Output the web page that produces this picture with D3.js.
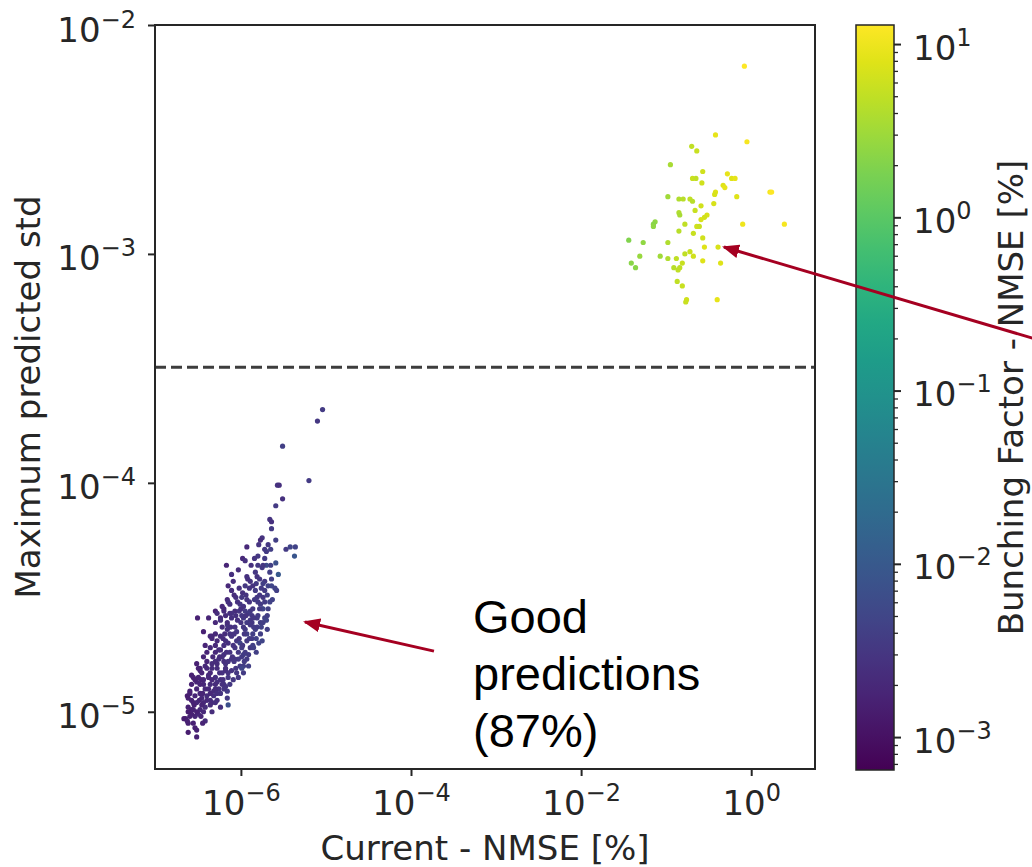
<!DOCTYPE html>
<html>
<head>
<meta charset="utf-8">
<script src="https://cdn.jsdelivr.net/npm/d3@7"></script>
<style>
body { margin: 0; background: #fff; }
svg { display: block; }
</style>
</head>
<body>
<svg id="chart" width="1032" height="867"></svg>
<script>
// values, as log10: [current NMSE, max predicted std, bunching NMSE]
const goodPoints = [
  [-5.04,-3.68,-2.45],[-5.10,-3.73,-2.5],[-5.51,-3.84,-2.4],[-5.57,-4.01,-2.55],[-5.55,-4.01,-2.6],
  [-5.20,-3.99,-2.45],[-5.51,-4.07,-2.6],[-5.59,-4.10,-2.45],[-5.66,-4.16,-2.55],[-5.64,-4.17,-2.6],
  [-5.64,-4.20,-2.45],[-5.75,-4.24,-2.55],[-5.77,-4.25,-2.65],[-5.59,-4.25,-2.4],[-5.93,-4.28,-2.7],
  [-5.79,-4.27,-2.55],[-5.72,-4.29,-2.5],[-5.70,-4.30,-2.45],[-5.68,-4.27,-2.5],[-5.65,-4.29,-2.4],
  [-5.47,-4.29,-2.45],[-5.42,-4.28,-2.3],[-5.36,-4.28,-2.35],[-5.37,-4.32,-2.05],[-5.98,-4.33,-2.7],
  [-5.95,-4.34,-2.6],[-6.17,-4.36,-2.75],[-6.03,-4.38,-2.65],[-6.11,-4.40,-2.6],[-5.80,-4.36,-2.5],
  [-5.70,-4.36,-2.2],[-5.59,-4.35,-2.15],[-5.83,-4.39,-2.5],[-5.81,-4.41,-2.55],[-5.93,-4.41,-2.6],
  [-5.56,-4.40,-2.0],
  [-5.82,-4.44,-2.45],[-5.72,-4.43,-2.5],[-5.68,-4.45,-2.35],[-6.15,-4.45,-2.7],[-6.11,-4.47,-2.65],
  [-6.02,-4.46,-2.6],[-5.98,-4.48,-2.6],[-5.99,-4.50,-2.5],[-5.86,-4.45,-2.55],[-5.83,-4.47,-2.45],
  [-5.81,-4.50,-2.5],[-5.84,-4.51,-2.45],[-5.74,-4.44,-2.4],[-5.72,-4.47,-2.45],[-5.64,-4.45,-2.3],
  [-5.58,-4.47,-2.4],[-5.74,-4.50,-2.5],[-5.77,-4.53,-2.45],[-5.75,-4.55,-2.4],[-6.16,-4.51,-2.7],
  [-6.13,-4.53,-2.6],[-6.07,-4.56,-2.65],[-6.11,-4.57,-2.55],[-6.01,-4.53,-2.5],[-5.97,-4.54,-2.55],
  [-5.95,-4.56,-2.45],[-6.30,-4.56,-2.8],[-6.22,-4.54,-2.7],[-6.51,-4.59,-2.8],[-6.38,-4.59,-2.75],
  [-5.72,-4.59,-2.35],[-5.81,-4.59,-2.45],[-5.87,-4.58,-2.5],[-5.93,-4.51,-2.55],[-5.89,-4.56,-2.5],
  [-5.72,-4.52,-2.45],[-5.74,-4.55,-2.3],[-6.15,-4.52,-2.6],[-6.20,-4.56,-2.65],[-6.13,-4.57,-2.6],
  [-6.24,-4.59,-2.7],[-6.02,-4.56,-2.55],[-5.97,-4.59,-2.5],[-6.04,-4.60,-2.6],[-5.93,-4.61,-2.45],
  [-6.07,-4.63,-2.55],[-6.44,-4.65,-2.8],[-5.89,-4.60,-2.5],[-5.81,-4.63,-2.45],[-5.77,-4.66,-2.4],
  [-5.87,-4.68,-2.45],[-5.79,-4.70,-2.35],[-5.89,-4.72,-2.5],[-5.70,-4.60,-2.3],[-5.69,-4.64,-2.4],
  [-6.34,-4.67,-2.75],[-6.28,-4.69,-2.7],[-6.36,-4.72,-2.7],[-6.24,-4.73,-2.65],[-6.16,-4.64,-2.6],
  [-6.11,-4.67,-2.55],[-6.15,-4.70,-2.6],[-6.05,-4.69,-2.5],[-5.99,-4.72,-2.45],[-5.93,-4.66,-2.4],
  [-6.36,-4.67,-2.7],[-6.42,-4.71,-2.75],[-5.85,-4.72,-2.4],[-5.93,-4.69,-2.5],
  [-6.28,-4.57,-2.65],[-6.24,-4.60,-2.6],[-6.16,-4.62,-2.55],[-6.11,-4.59,-2.6],[-5.99,-4.58,-2.5],
  [-5.91,-4.57,-2.45],[-5.85,-4.59,-2.5],[-5.77,-4.61,-2.4],[-6.24,-4.67,-2.65],[-6.18,-4.69,-2.6],
  [-6.13,-4.66,-2.55],[-6.05,-4.65,-2.5],[-5.95,-4.64,-2.45],[-5.89,-4.62,-2.5],[-5.83,-4.64,-2.4],
  [-6.26,-4.73,-2.65],[-6.20,-4.75,-2.6],[-6.13,-4.74,-2.55],[-6.07,-4.72,-2.5],[-6.01,-4.70,-2.3],
  [-6.52,-4.79,-2.8],[-6.48,-4.81,-2.75],[-6.42,-4.80,-2.7],[-6.34,-4.79,-2.65],[-6.26,-4.77,-2.6],
  [-6.18,-4.79,-2.55],[-6.11,-4.77,-2.5],[-6.03,-4.77,-2.45],[-5.97,-4.80,-2.4],[-6.05,-4.83,-2.5],
  [-6.11,-4.82,-2.55],[-6.58,-4.84,-2.8],[-6.50,-4.85,-2.75],[-6.44,-4.86,-2.7],[-6.38,-4.84,-2.65],
  [-6.30,-4.85,-2.6],[-6.22,-4.83,-2.55],[-6.15,-4.85,-2.5],[-6.20,-4.88,-2.55],[-6.28,-4.87,-2.6],
  [-6.36,-4.88,-2.65],[-6.42,-4.90,-2.7],[-6.26,-4.90,-2.6],[-6.16,-4.91,-2.45],[-6.60,-4.91,-2.8],
  [-6.54,-4.93,-2.75],[-6.62,-4.94,-2.8],[-6.52,-4.96,-2.7],[-6.46,-4.94,-2.7],[-6.40,-4.93,-2.65],
  [-6.32,-4.93,-2.6],[-6.24,-4.92,-2.55],[-6.16,-4.94,-2.5],[-6.34,-4.96,-2.6],[-6.42,-4.98,-2.65],
  [-6.48,-4.99,-2.7],[-6.56,-4.99,-2.75],[-6.15,-4.97,-2.15],[-6.65,-5.03,-2.8],[-6.62,-5.05,-2.8],
  [-6.54,-5.02,-2.75],[-6.50,-5.01,-2.7],[-6.42,-5.04,-2.65],[-6.58,-5.01,-2.8],[-6.62,-5.09,-2.85],
  [-6.52,-5.08,-2.8],[-6.52,-5.11,-2.8],
  [-6.22,-4.76,-2.6],[-6.15,-4.78,-2.55],[-6.07,-4.77,-2.5],[-6.01,-4.80,-2.45],[-6.18,-4.82,-2.6],
  [-5.97,-4.75,-2.4],[-5.93,-4.77,-2.45],[-5.91,-4.80,-2.4],[-5.97,-4.83,-2.45],[-6.03,-4.85,-2.5],
  [-6.28,-4.79,-2.65],[-6.34,-4.81,-2.65],[-6.38,-4.85,-2.7],[-6.48,-4.82,-2.75],[-6.56,-4.85,-2.8],
  [-6.52,-4.87,-2.75],[-6.44,-4.88,-2.7],[-6.24,-4.86,-2.6],[-6.18,-4.89,-2.55],[-6.13,-4.88,-2.5],
  [-6.32,-4.91,-2.65],[-5.99,-4.81,-2.3],[-6.48,-4.92,-2.75],[-6.36,-4.95,-2.65],[-6.44,-4.96,-2.7],
  [-6.63,-4.93,-2.85],[-6.56,-4.96,-2.75],[-6.62,-4.98,-2.8],[-6.58,-4.99,-2.8],[-6.30,-4.96,-2.6],
  [-6.24,-4.98,-2.6],[-6.67,-5.03,-2.85],[-6.63,-5.04,-2.8],[-6.54,-5.07,-2.8],
  [-5.80,-4.32,-2.5],[-5.75,-4.37,-2.45],[-5.66,-4.39,-2.4],[-5.89,-4.43,-2.55],[-5.95,-4.45,-2.5],
  [-5.63,-4.51,-2.35],[-5.68,-4.55,-2.4],[-6.06,-4.50,-2.6],[-6.09,-4.43,-2.65],[-5.75,-4.69,-2.3],
  [-5.82,-4.74,-2.4],[-5.91,-4.75,-2.45],
  // dense core of the cluster
  [-5.84,-4.33,-2.55],[-5.72,-4.33,-2.45],[-5.88,-4.36,-2.6],[-5.74,-4.36,-2.5],[-5.65,-4.36,-2.4],
  [-5.92,-4.42,-2.6],[-5.78,-4.42,-2.5],[-5.64,-4.42,-2.4],[-5.90,-4.46,-2.55],[-5.76,-4.46,-2.45],
  [-5.60,-4.46,-2.35],[-6.08,-4.49,-2.65],[-5.94,-4.49,-2.55],[-5.78,-4.49,-2.5],[-5.69,-4.49,-2.4],
  [-6.04,-4.52,-2.6],[-5.90,-4.52,-2.55],[-5.80,-4.52,-2.45],[-5.66,-4.52,-2.35],[-6.20,-4.55,-2.7],
  [-6.00,-4.55,-2.6],[-5.86,-4.55,-2.5],[-5.78,-4.55,-2.45],[-6.18,-4.58,-2.65],[-6.06,-4.58,-2.6],
  [-5.94,-4.58,-2.55],[-5.80,-4.58,-2.45],[-5.69,-4.58,-2.4],[-6.30,-4.61,-2.7],[-6.16,-4.61,-2.65],
  [-6.00,-4.61,-2.55],[-5.87,-4.61,-2.5],[-5.74,-4.61,-2.4],[-6.22,-4.63,-2.65],[-6.12,-4.63,-2.6],
  [-5.97,-4.63,-2.5],[-5.85,-4.63,-2.45],[-5.76,-4.63,-2.35],[-6.30,-4.66,-2.7],[-6.19,-4.66,-2.65],
  [-6.08,-4.66,-2.55],[-5.96,-4.66,-2.5],[-5.86,-4.66,-2.4],[-6.34,-4.68,-2.7],[-6.21,-4.68,-2.65],
  [-6.02,-4.68,-2.55],[-5.90,-4.68,-2.45],[-5.82,-4.68,-2.35],[-6.30,-4.71,-2.7],[-6.20,-4.71,-2.6],
  [-6.09,-4.71,-2.55],[-5.98,-4.71,-2.5],[-5.86,-4.71,-2.4],[-6.40,-4.74,-2.75],[-6.30,-4.74,-2.7],
  [-6.17,-4.74,-2.6],[-6.03,-4.74,-2.5],[-5.95,-4.74,-2.45],[-6.44,-4.76,-2.75],[-6.33,-4.76,-2.7],
  [-6.25,-4.76,-2.65],[-6.10,-4.76,-2.55],[-5.99,-4.76,-2.45],[-6.40,-4.78,-2.75],[-6.30,-4.78,-2.65],
  [-6.20,-4.78,-2.6],[-6.08,-4.78,-2.5],[-5.96,-4.78,-2.45],[-6.50,-4.81,-2.8],[-6.40,-4.81,-2.7],
  [-6.28,-4.81,-2.65],[-6.18,-4.81,-2.6],[-6.06,-4.81,-2.5],[-6.46,-4.83,-2.75],[-6.36,-4.83,-2.7],
  [-6.25,-4.83,-2.6],[-6.15,-4.83,-2.55],[-6.54,-4.86,-2.8],[-6.47,-4.86,-2.75],[-6.34,-4.86,-2.7],
  [-6.21,-4.86,-2.6],[-6.09,-4.86,-2.5],[-6.58,-4.88,-2.8],[-6.48,-4.88,-2.75],[-6.30,-4.88,-2.65],
  [-6.22,-4.88,-2.6],[-6.52,-4.90,-2.75],[-6.38,-4.90,-2.7],[-6.30,-4.90,-2.65],[-6.20,-4.90,-2.55],
  [-6.60,-4.92,-2.8],[-6.45,-4.92,-2.75],[-6.36,-4.92,-2.7],[-6.28,-4.92,-2.6],[-6.58,-4.95,-2.8],
  [-6.49,-4.95,-2.75],[-6.40,-4.95,-2.7],[-6.28,-4.95,-2.6],[-6.55,-4.97,-2.8],[-6.46,-4.97,-2.75],
  [-6.36,-4.97,-2.65],[-6.62,-5.00,-2.85],[-6.52,-5.00,-2.8],[-6.44,-5.00,-2.7],[-6.34,-5.00,-2.65],
  [-6.60,-5.02,-2.8],[-6.47,-5.02,-2.75],[-6.56,-5.05,-2.8],[-6.45,-5.05,-2.75]
];
const badPoints = [
  [-0.42,-2.48,0.95],[-0.05,-2.51,1.05],[-0.70,-2.53,0.7],[-0.64,-2.55,0.75],[-0.95,-2.61,0.55],
  [-0.57,-2.64,0.8],[-0.69,-2.67,0.75],[-0.65,-2.67,0.7],[-0.58,-2.69,0.8],[-0.28,-2.65,0.95],
  [-0.23,-2.67,0.9],[-0.19,-2.67,0.95],[-0.33,-2.70,0.9],[-0.31,-2.71,0.95],[-0.42,-2.73,0.9],
  [-0.43,-2.74,0.85],[0.22,-2.73,1.05],[0.24,-2.73,1.1],[-0.98,-2.75,0.5],[-0.85,-2.76,0.6],
  [-0.80,-2.76,0.65],[-0.72,-2.76,0.7],[-0.69,-2.77,0.65],[-0.17,-2.75,0.9],[-0.44,-2.78,0.85],
  [-0.59,-2.79,0.8],[-0.66,-2.81,0.75],[-0.85,-2.82,0.6],[-0.84,-2.83,0.55],[-0.52,-2.83,0.85],
  [-0.55,-2.84,0.8],[-0.59,-2.85,0.85],[-1.13,-2.86,0.4],[-1.15,-2.87,0.35],[-1.15,-2.88,0.4],
  [-0.78,-2.87,0.7],[-0.64,-2.88,0.8],[-0.61,-2.88,0.75],[-0.10,-2.87,1.0],[0.39,-2.87,1.05],
  [-0.85,-2.90,0.65],[-0.68,-2.91,0.75],[-0.57,-2.93,0.8],[-1.44,-2.94,0.3],[-1.27,-2.95,0.4],
  [-0.98,-2.95,0.6],[-0.55,-2.97,0.9],[-0.39,-2.97,0.85],[-0.72,-2.99,0.75],[-0.78,-3.00,0.7],
  [-0.68,-3.01,0.8],[-1.31,-3.01,0.45],[-1.07,-3.01,0.5],[-0.98,-3.02,0.6],[-0.57,-3.03,0.9],
  [-0.88,-3.02,0.7],[-0.81,-3.04,0.75],[-0.84,-3.06,0.7],[-0.91,-3.06,0.65],[-0.86,-3.07,0.7],
  [-1.41,-3.04,0.35],[-1.36,-3.06,0.35],[-0.36,-3.04,0.9],[-0.87,-3.12,0.7],[-0.81,-3.14,0.75],
  [-0.76,-3.20,0.8],[-0.77,-3.21,0.75],[-0.40,-3.20,0.95],[-0.08,-2.18,1.11]
];
const xTickExp = [-6, -4, -2, 0];
const yTickExp = [-5, -4, -3, -2];
const cTickExp = [-3, -2, -1, 0, 1];
const threshold = 3.2e-4;
const noteLines = ["Good", "predictions", "(87%)"];

const plot = {left: 155, right: 815, top: 25, bottom: 769};
const bar = {left: 856, right: 894, top: 25, bottom: 770};
const red = "#a50021";
const ink = "#262626";

let svg = d3.select("#chart");
svg.append("rect").attr("width", 1032).attr("height", 867).attr("fill", "#fff");

let x = d3.scaleLog().domain([10 ** -7.01, 10 ** 0.75]).range([plot.left, plot.right]);
let y = d3.scaleLog().domain([10 ** -5.25, 10 ** -2]).range([plot.bottom, plot.top]);
let cDomain = [10 ** -3.19, 10 ** 1.11];
let cy = d3.scaleLog().domain(cDomain).range([bar.bottom, bar.top]);
let color = d3.scaleSequentialLog(d3.interpolateViridis).domain(cDomain);

function pow10(sel, e) {
  sel.append("tspan").text("10");
  sel.append("tspan").attr("font-size", 24).attr("dy", -14)
    .text(e < 0 ? "\u2212" + (-e) : String(e));
}

// points
let pts = goodPoints.concat(badPoints);
svg.append("g").selectAll("circle")
  .data(pts)
  .enter()
  .append("circle")
  .attr("cx", d => x(10 ** d[0]))
  .attr("cy", d => y(10 ** d[1]))
  .attr("r", 2.6)
  .attr("fill", d => color(10 ** d[2]));

// threshold line
svg.append("line")
  .attr("x1", plot.left).attr("x2", plot.right)
  .attr("y1", y(threshold)).attr("y2", y(threshold))
  .attr("stroke", "#3d3d3d").attr("stroke-width", 3)
  .attr("stroke-dasharray", "11,5");

// frame
svg.append("rect")
  .attr("x", plot.left).attr("y", plot.top)
  .attr("width", plot.right - plot.left).attr("height", plot.bottom - plot.top)
  .attr("fill", "none").attr("stroke", ink).attr("stroke-width", 2);

// x axis
let gx = svg.append("g").attr("transform", "translate(0," + plot.bottom + ")")
  .call(d3.axisBottom(x).tickValues(xTickExp.map(e => 10 ** e)).tickSize(7).tickSizeOuter(0).tickFormat(""));
gx.select(".domain").remove();
gx.selectAll(".tick line").attr("stroke", ink).attr("stroke-width", 2);
gx.selectAll(".tick").each(function(d, i) {
  let t = d3.select(this).append("text")
    .attr("y", 46).attr("fill", ink)
    .attr("font-family", "DejaVu Sans").attr("font-size", 34)
    .attr("text-anchor", "middle");
  pow10(t, xTickExp[i]);
});

// y axis
let gy = svg.append("g").attr("transform", "translate(" + plot.left + ",0)")
  .call(d3.axisLeft(y).tickValues(yTickExp.map(e => 10 ** e)).tickSize(7).tickSizeOuter(0).tickFormat(""));
gy.select(".domain").remove();
gy.selectAll(".tick line").attr("stroke", ink).attr("stroke-width", 2);
gy.selectAll(".tick").each(function(d, i) {
  let t = d3.select(this).append("text")
    .attr("x", -19).attr("y", 16).attr("fill", ink)
    .attr("font-family", "DejaVu Sans").attr("font-size", 34)
    .attr("text-anchor", "end");
  pow10(t, yTickExp[i]);
});

// axis labels
svg.append("text")
  .attr("x", (plot.left + plot.right) / 2).attr("y", 860)
  .attr("text-anchor", "middle").attr("fill", ink)
  .attr("font-family", "DejaVu Sans").attr("font-size", 34)
  .text("Current - NMSE [%]");
svg.append("text")
  .attr("transform", "translate(40," + (plot.top + plot.bottom) / 2 + ") rotate(-90)")
  .attr("text-anchor", "middle").attr("fill", ink)
  .attr("font-family", "DejaVu Sans").attr("font-size", 34)
  .text("Maximum predicted std");

// colorbar
let grad = svg.append("defs").append("linearGradient")
  .attr("id", "viridis").attr("x1", 0).attr("x2", 0).attr("y1", 1).attr("y2", 0);
grad.selectAll("stop")
  .data(d3.range(0, 1.0001, 0.05))
  .enter()
  .append("stop")
  .attr("offset", d => d)
  .attr("stop-color", d => d3.interpolateViridis(d));

svg.append("rect")
  .attr("x", bar.left).attr("y", bar.top)
  .attr("width", bar.right - bar.left).attr("height", bar.bottom - bar.top)
  .attr("fill", "url(#viridis)").attr("stroke", ink).attr("stroke-width", 1.5);

let minor = [];
for (let e = -4; e <= 1; e++) {
  for (let m = 2; m <= 9; m++) {
    let v = m * 10 ** e;
    if (v > cDomain[0] && v < cDomain[1]) minor.push(v);
  }
}
let gcMinor = svg.append("g").attr("transform", "translate(" + bar.right + ",0)")
  .call(d3.axisRight(cy).tickValues(minor).tickSize(4).tickSizeOuter(0).tickFormat(""));
gcMinor.select(".domain").remove();
gcMinor.selectAll(".tick line").attr("stroke", ink).attr("stroke-width", 1.3);

let gc = svg.append("g").attr("transform", "translate(" + bar.right + ",0)")
  .call(d3.axisRight(cy).tickValues(cTickExp.map(e => 10 ** e)).tickSize(7).tickSizeOuter(0).tickFormat(""));
gc.select(".domain").remove();
gc.selectAll(".tick line").attr("stroke", ink).attr("stroke-width", 2);
gc.selectAll(".tick").each(function(d, i) {
  let t = d3.select(this).append("text")
    .attr("x", 19).attr("y", 15).attr("fill", ink)
    .attr("font-family", "DejaVu Sans").attr("font-size", 34)
    .attr("text-anchor", "start");
  pow10(t, cTickExp[i]);
});

svg.append("text")
  .attr("transform", "translate(1023," + (bar.top + bar.bottom) / 2 + ") rotate(-90)")
  .attr("text-anchor", "middle").attr("fill", ink)
  .attr("font-family", "DejaVu Sans").attr("font-size", 34)
  .text("Bunching Factor - NMSE [%]");

// annotations
svg.select("defs").append("marker")
  .attr("id", "head")
  .attr("viewBox", "0 0 17 14")
  .attr("refX", 15).attr("refY", 7)
  .attr("markerWidth", 17).attr("markerHeight", 14)
  .attr("markerUnits", "userSpaceOnUse")
  .attr("orient", "auto")
  .append("path")
  .attr("d", "M0,0 L17,7 L0,14 Z")
  .attr("fill", red);

// arrow ends in data units (log10)
const arrows = [
  {from: [-3.73, -4.735], to: [-5.246, -4.608]},
  {from: [3.40, -3.378], to: [-0.32, -2.97]}
];
svg.append("g").selectAll("line")
  .data(arrows)
  .enter()
  .append("line")
  .attr("x1", d => x(10 ** d.from[0])).attr("y1", d => y(10 ** d.from[1]))
  .attr("x2", d => x(10 ** d.to[0])).attr("y2", d => y(10 ** d.to[1]))
  .attr("stroke", red).attr("stroke-width", 3)
  .attr("marker-end", "url(#head)");

svg.append("g").selectAll("text")
  .data(noteLines)
  .enter()
  .append("text")
  .attr("x", 473)
  .attr("y", (d, i) => 633 + i * 57)
  .attr("font-family", "Liberation Sans, Arial, sans-serif")
  .attr("font-size", 47)
  .attr("fill", "#000")
  .text(d => d);
</script>
</body>
</html>
